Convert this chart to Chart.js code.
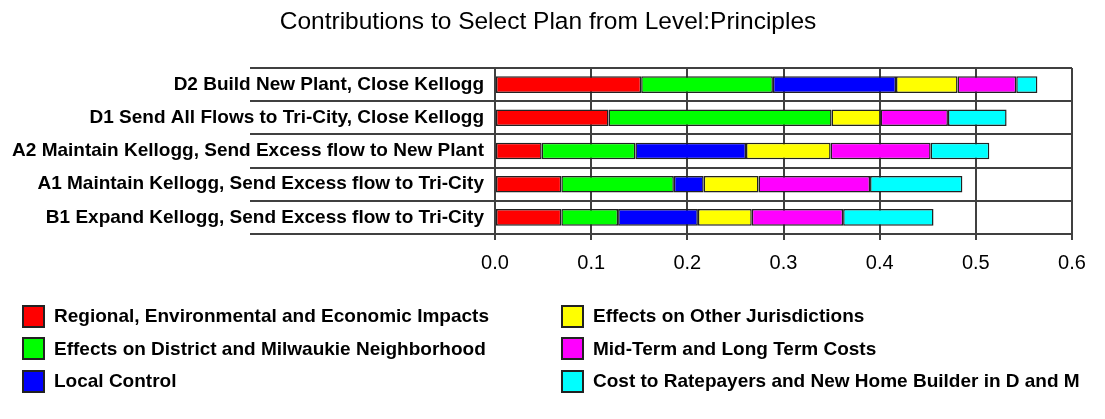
<!DOCTYPE html>
<html>
<head>
<meta charset="utf-8">
<script src="https://cdn.jsdelivr.net/npm/chart.js@4.4.1/dist/chart.umd.min.js"></script>
<style>
    html, body { margin: 0; padding: 0; background: #fff; }
    #wrap { position: relative; width: 1105px; height: 419px; }
    #legend {
        position: absolute; left: 22px; top: 304px;
        display: grid; grid-auto-flow: column;
        grid-template-columns: 539px auto;
        grid-template-rows: repeat(3, 32.5px);
        font: bold 19px 'Liberation Sans', Arial, sans-serif; color: #000;
    }
    .item { display: flex; align-items: center; height: 24px; }
    .box { width: 23px; height: 23px; box-sizing: border-box; border: 2px solid #222; margin-right: 9px; }
</style>
</head>
<body>
<div id="wrap">
    <canvas id="myChart" width="1105" height="419"></canvas>
    <div id="legend"></div>
</div>
<script>
// Dados
const categories = [
    'D2 Build New Plant, Close Kellogg',
    'D1 Send All Flows to Tri-City, Close Kellogg',
    'A2 Maintain Kellogg, Send Excess flow to New Plant',
    'A1 Maintain Kellogg, Send Excess flow to Tri-City',
    'B1 Expand Kellogg, Send Excess flow to Tri-City'
];
const regional      = [0.152, 0.118, 0.0485, 0.069, 0.069];
const district      = [0.137, 0.232, 0.0975, 0.117, 0.059];
const localControl  = [0.128, null,  0.115,  0.031, 0.083];
const jurisdictions = [0.064, 0.051, 0.088,  0.057, 0.056];
const longTerm      = [0.061, 0.070, 0.104,  0.116, 0.095];
const ratepayers    = [0.022, 0.061, 0.061,  0.096, 0.094];
const xTicks = [0, 0.1, 0.2, 0.3, 0.4, 0.5, 0.6];

const seriesNames = [
    'Regional, Environmental and Economic Impacts',
    'Effects on District and Milwaukie Neighborhood',
    'Local Control',
    'Effects on Other Jurisdictions',
    'Mid-Term and Long Term Costs',
    'Cost to Ratepayers and New Home Builder in D and M'
];
const seriesData = [regional, district, localControl, jurisdictions, longTerm, ratepayers];
const seriesColors = ['#ff0000', '#00ff00', '#0000ff', '#ffff00', '#ff00ff', '#00ffff'];

const fontFamily = "'Liberation Sans', Arial, sans-serif";
const lineColor = '#404040';

const datasets = seriesNames.map((name, i) => ({
    label: name,
    data: seriesData[i],
    backgroundColor: seriesColors[i],
    borderColor: '#222',
    borderWidth: 1.5,
    borderSkipped: false,
    categoryPercentage: 1,
    barPercentage: 0.5
}));

const ctx = document.getElementById('myChart').getContext('2d');
const chart = new Chart(ctx, {
    type: 'bar',
    data: { labels: categories, datasets: datasets },
    options: {
        indexAxis: 'y',
        responsive: false,
        animation: false,
        // padding direita pequena para o título ficar centrado como no original
        layout: { padding: { left: 0, right: 9, top: 0, bottom: 133 } },
        scales: {
            x: {
                stacked: true,
                min: 0,
                max: 0.6,
                afterBuildTicks: function(scale) {
                    scale.ticks = xTicks.map(v => ({ value: v }));
                },
                afterFit: function(scale) { scale.paddingRight = 33; },
                ticks: {
                    color: '#000',
                    padding: 11,
                    font: { family: fontFamily, size: 20 },
                    callback: function(value) { return Number(value).toFixed(1); }
                },
                grid: { color: lineColor, lineWidth: 2, tickLength: 6 },
                border: { color: lineColor, width: 2 }
            },
            y: {
                stacked: true,
                afterFit: function(scale) { scale.width = 495; },
                ticks: {
                    color: '#000',
                    padding: -234,
                    font: { family: fontFamily, size: 19, weight: 'bold' }
                },
                grid: { color: lineColor, lineWidth: 2, tickLength: 245, offset: true },
                border: { color: lineColor, width: 2 }
            }
        },
        plugins: {
            legend: { display: false },
            tooltip: { enabled: false },
            title: {
                display: true,
                text: 'Contributions to Select Plan from Level:Principles',
                color: '#000',
                font: { family: fontFamily, size: 24.5, weight: 'normal' },
                padding: { top: 8, bottom: 30.6 }
            }
        }
    }
});

// Legenda em HTML, duas colunas
const legendEl = document.getElementById('legend');
chart.data.datasets.forEach(ds => {
    const item = document.createElement('div');
    item.className = 'item';
    const box = document.createElement('span');
    box.className = 'box';
    box.style.background = ds.backgroundColor;
    const text = document.createElement('span');
    text.textContent = ds.label;
    item.appendChild(box);
    item.appendChild(text);
    legendEl.appendChild(item);
});
</script>
</body>
</html>
